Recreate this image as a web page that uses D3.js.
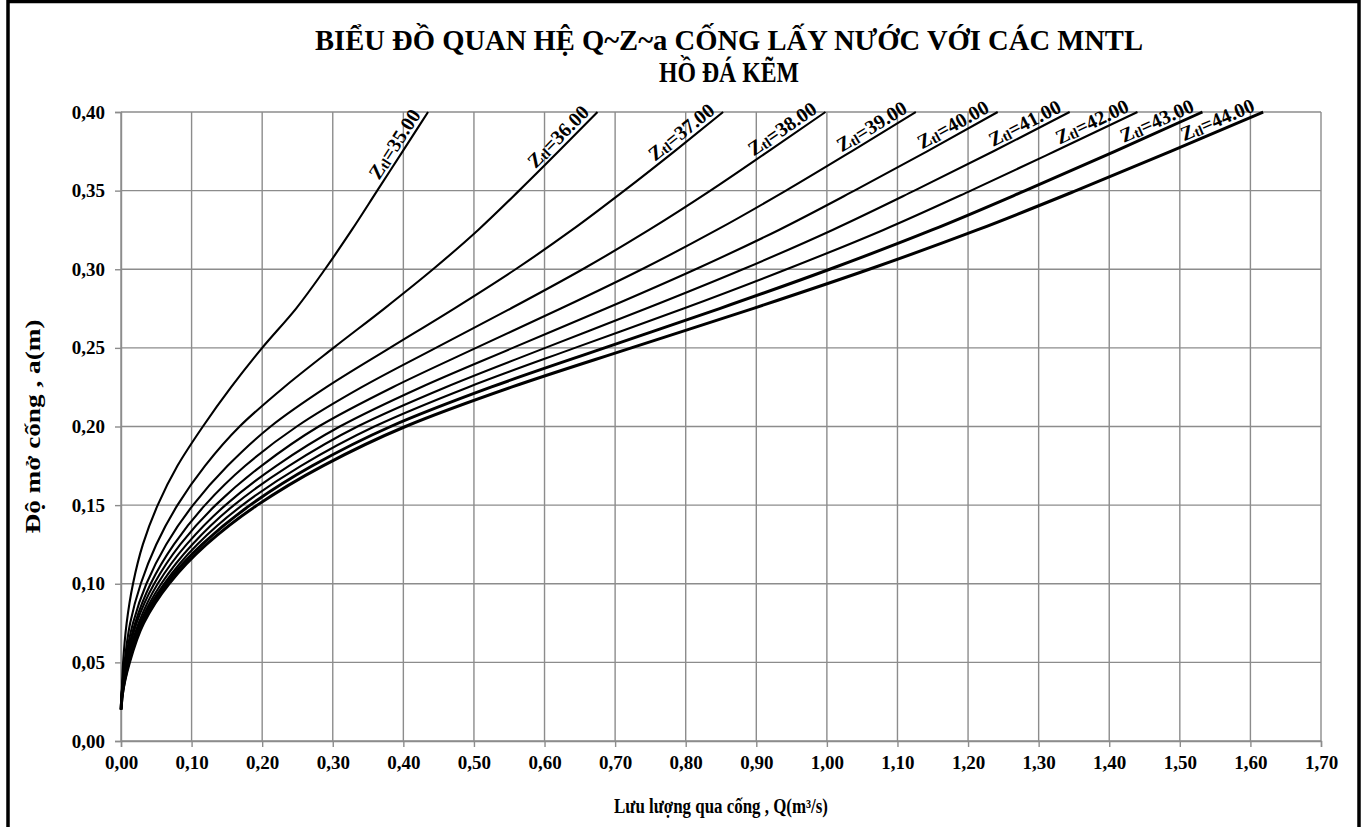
<!DOCTYPE html>
<html>
<head>
<meta charset="utf-8">
<script src="https://cdn.jsdelivr.net/npm/d3@7"></script>
<style>
  body { margin: 0; background: #fff; }
  svg text { font-family: "Liberation Serif", "Times New Roman", serif; font-weight: bold; fill: #000; }
</style>
</head>
<body>
<div id="chart"></div>
<script>
// gate opening a (m) - common for every curve
var aValues = [0.02, 0.03, 0.05, 0.075, 0.10, 0.125, 0.15, 0.175, 0.20, 0.225, 0.25, 0.275, 0.30, 0.325, 0.35, 0.375, 0.40]

// upstream water levels Ztl
var zLevels = [35, 36, 37, 38, 39, 40, 41, 42, 43, 44]

// discharge Q (m3/s) for each level
var q35 = [0.000, 0.001, 0.003, 0.008, 0.017, 0.031, 0.052, 0.080, 0.116, 0.156, 0.200, 0.248, 0.289, 0.327, 0.363, 0.399, 0.435]
var q36 = [0.000, 0.001, 0.005, 0.013, 0.028, 0.050, 0.080, 0.119, 0.168, 0.231, 0.301, 0.373, 0.442, 0.506, 0.564, 0.620, 0.675]
var q37 = [0.000, 0.001, 0.006, 0.017, 0.036, 0.064, 0.102, 0.151, 0.212, 0.291, 0.381, 0.472, 0.559, 0.639, 0.713, 0.784, 0.853]
var q38 = [0.000, 0.001, 0.007, 0.020, 0.042, 0.075, 0.119, 0.176, 0.249, 0.341, 0.446, 0.552, 0.654, 0.748, 0.835, 0.917, 0.998]
var q39 = [0.000, 0.001, 0.008, 0.022, 0.047, 0.084, 0.134, 0.199, 0.280, 0.385, 0.503, 0.623, 0.738, 0.844, 0.942, 1.035, 1.126]
var q40 = [0.000, 0.002, 0.009, 0.025, 0.052, 0.093, 0.148, 0.220, 0.310, 0.425, 0.555, 0.687, 0.814, 0.932, 1.039, 1.142, 1.242]
var q41 = [0.000, 0.002, 0.010, 0.027, 0.057, 0.101, 0.160, 0.238, 0.335, 0.460, 0.601, 0.744, 0.881, 1.008, 1.124, 1.236, 1.344]
var q42 = [0.000, 0.002, 0.011, 0.028, 0.061, 0.108, 0.172, 0.255, 0.359, 0.492, 0.643, 0.797, 0.943, 1.080, 1.204, 1.323, 1.440]
var q43 = [0.000, 0.002, 0.011, 0.030, 0.064, 0.115, 0.183, 0.271, 0.382, 0.524, 0.685, 0.848, 1.004, 1.149, 1.281, 1.408, 1.532]
var q44 = [0.000, 0.002, 0.012, 0.032, 0.068, 0.121, 0.193, 0.286, 0.403, 0.553, 0.723, 0.895, 1.060, 1.213, 1.353, 1.487, 1.618]
var qSeries = [q35, q36, q37, q38, q39, q40, q41, q42, q43, q44]

var xTicks = d3.range(0, 18).map(function (i) { return i / 10 })
var yTicks = d3.range(0, 9).map(function (i) { return i * 0.05 })

var titleLines = ["BIỂU ĐỒ QUAN HỆ Q~Z~a CỐNG LẤY NƯỚC VỚI CÁC MNTL", "HỒ ĐÁ KẼM"]

var width = 1363, height = 827
var margin = {top: 112, right: 42, bottom: 86, left: 121}
var chartWidth = width - margin.left - margin.right
var chartHeight = height - margin.top - margin.bottom

var svg = d3.select("#chart").append("svg")
    .attr("width", width).attr("height", height)

// outer frame
svg.append("rect")
    .attr("x", 8).attr("y", 1.5)
    .attr("width", 1351).attr("height", 840)
    .attr("fill", "none").attr("stroke", "#000").attr("stroke-width", 3.5)

var xScale = d3.scaleLinear().domain([0, 1.7]).range([0, chartWidth])
var yScale = d3.scaleLinear().domain([0, 0.4]).range([chartHeight, 0])

var fmt = function (d) { return d3.format(".2f")(d).replace(".", ",") }

var chartLayer = svg.append("g")
    .attr("transform", "translate(" + [margin.left, margin.top] + ")")

// grid
var gridColor = "#8c8c8c"
chartLayer.append("g").selectAll("line").data(xTicks).enter().append("line")
    .attr("x1", function (d) { return xScale(d) }).attr("x2", function (d) { return xScale(d) })
    .attr("y1", 0).attr("y2", chartHeight)
    .attr("stroke", gridColor).attr("stroke-width", 1.4)
chartLayer.append("g").selectAll("line").data(yTicks).enter().append("line")
    .attr("y1", function (d) { return yScale(d) }).attr("y2", function (d) { return yScale(d) })
    .attr("x1", 0).attr("x2", chartWidth)
    .attr("stroke", gridColor).attr("stroke-width", 1.4)

// axes
var xAxis = d3.axisBottom(xScale).tickValues(xTicks).tickFormat(fmt).tickSize(6).tickPadding(9)
var yAxis = d3.axisLeft(yScale).tickValues(yTicks).tickFormat(fmt).tickSize(6).tickPadding(10)

var gx = chartLayer.append("g").attr("transform", "translate(0," + chartHeight + ")").call(xAxis)
var gy = chartLayer.append("g").call(yAxis)
;[gx, gy].forEach(function (g) {
    g.select(".domain").attr("stroke", gridColor).attr("stroke-width", 1.4)
    g.selectAll(".tick line").attr("stroke", gridColor).attr("stroke-width", 1.4)
    g.selectAll(".tick text").style("font-size", "19px")
        .style("font-family", "'Liberation Serif', 'Times New Roman', serif").style("font-weight", "bold")
})

// curves
var line = d3.line()
    .x(function (d) { return xScale(d.q) })
    .y(function (d) { return yScale(d.a) })
    .curve(d3.curveMonotoneY)

var curves = zLevels.map(function (z, i) {
    return {
        z: z,
        points: aValues.map(function (a, j) { return {a: a, q: qSeries[i][j]} })
    }
})

chartLayer.append("g").selectAll("path").data(curves).enter().append("path")
    .attr("d", function (d) { return line(d.points) })
    .attr("fill", "none")
    .attr("stroke", "#000")
    .attr("stroke-width", function (d) { return d.z >= 43 ? 3 : 2.1 })
    .attr("stroke-linejoin", "round")

// labels along the top end of each curve
var labels = chartLayer.append("g").selectAll("text").data(curves).enter().append("text")
    .attr("text-anchor", "end")
    .style("font-size", "20px")
    .attr("transform", function (d) {
        var n = d.points.length
        var p1 = d.points[n - 1], p0 = d.points[n - 2]
        var x1 = xScale(p1.q), y1 = yScale(p1.a)
        var dx = x1 - xScale(p0.q), dy = y1 - yScale(p0.a)
        var len = Math.sqrt(dx * dx + dy * dy)
        var ux = dx / len, uy = dy / len
        var ang = Math.atan2(dy, dx) * 180 / Math.PI
        var px = x1 - ux * 6 + uy * 4
        var py = y1 - uy * 6 - ux * 4
        return "translate(" + [px, py] + ") rotate(" + ang + ")"
    })
labels.append("tspan").text("Z")
labels.append("tspan").text("tl").style("font-size", "14px").attr("dy", 1)
labels.append("tspan").text(function (d) { return "=" + d.z.toFixed(2) }).attr("dy", -1)

// titles
svg.selectAll("text.title").data(titleLines).enter().append("text")
    .attr("class", "title")
    .attr("x", 729)
    .attr("y", function (d, i) { return 50 + i * 32 })
    .attr("text-anchor", "middle")
    .attr("textLength", function (d, i) { return i == 0 ? 828 : 140 })
    .attr("lengthAdjust", "spacingAndGlyphs")
    .style("font-size", "30px")
    .text(function (d) { return d })

svg.append("text")
    .attr("x", margin.left + chartWidth / 2).attr("y", 813)
    .attr("text-anchor", "middle")
    .attr("textLength", 214)
    .attr("lengthAdjust", "spacingAndGlyphs")
    .style("font-size", "20px")
    .text("Lưu lượng qua cống , Q(m³/s)")

svg.append("text")
    .attr("transform", "translate(40," + (margin.top + chartHeight / 2) + ") rotate(-90)")
    .attr("text-anchor", "middle")
    .attr("textLength", 214)
    .attr("lengthAdjust", "spacingAndGlyphs")
    .style("font-size", "20px")
    .text("Độ mở cống , a(m)")
</script>
</body>
</html>
